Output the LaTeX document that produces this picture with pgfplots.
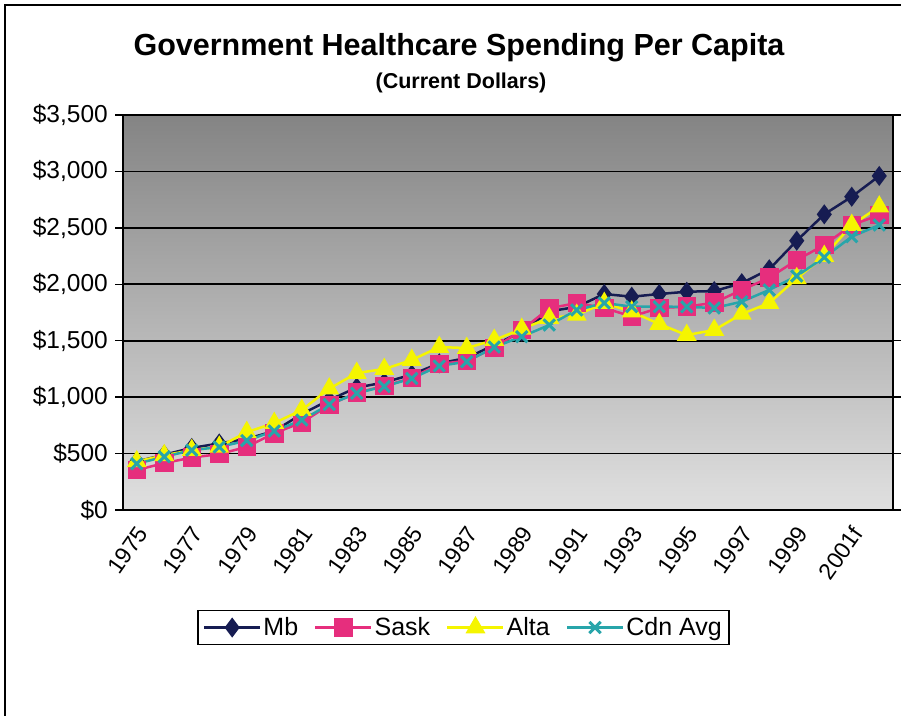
\documentclass[border=0pt]{standalone}
\usepackage{pgfplots}
\pgfplotsset{compat=1.18}
\usepackage{fontspec}
\setmainfont{Liberation Sans}

\definecolor{mbcol}{RGB}{22,28,82}
\definecolor{saskcol}{RGB}{230,46,125}
\definecolor{altacol}{RGB}{245,245,0}
\definecolor{cdncol}{RGB}{40,165,170}
\definecolor{bgtop}{RGB}{132,132,132}
\definecolor{bgbot}{RGB}{224,224,224}

\pgfplotstableread{
idx  mb    sask  alta  cdn
0    430   355   430   410
1    490   415   485   472
2    550   465   530   530
3    590   495   560   558
4    630   560   690   615
5    700   680   770   700
6    850   775   886   797
7    975   930   1075  935
8    1085  1040  1214  1035
9    1130  1099  1249  1095
10   1200  1170  1329  1165
11   1300  1294  1444  1277
12   1347  1323  1435  1314
13   1462  1435  1506  1444
14   1580  1595  1604  1536
15   1760  1787  1701  1639
16   1800  1834  1728  1772
17   1914  1790  1834  1834
18   1890  1715  1757  1802
19   1914  1790  1648  1802
20   1934  1802  1550  1800
21   1940  1837  1595  1790
22   2010  1950  1737  1846
23   2133  2058  1834  1950
24   2386  2215  2053  2073
25   2620  2348  2250  2239
26   2776  2525  2525  2422
27   2960  2614  2688  2525
}\spending

\begin{document}
\begin{tikzpicture}
\useasboundingbox (0pt,0pt) rectangle (901pt,-715pt);
% outer chart frame (only top and left edges are visible in the scan)
\draw[line width=2pt] (5pt,-760pt) -- (5pt,-5pt) -- (950pt,-5pt);

\node[font=\fontsize{30.5}{34}\selectfont\bfseries, anchor=base] at (459pt,-55pt)
  {Government Healthcare Spending Per Capita};
\node[font=\fontsize{21.5}{24}\selectfont\bfseries, anchor=base] at (461pt,-88pt)
  {(Current Dollars)};

\begin{axis}[
  at={(123pt,-510pt)}, anchor=south west,
  width=770pt, height=395pt, scale only axis,
  xmin=-0.5, xmax=27.5,
  ymin=0, ymax=3500,
  axis line style={line width=1.5pt},
  axis background/.style={top color=bgtop, bottom color=bgbot},
  ymajorgrids, grid style={black, line width=1.8pt},
  ytick={0,500,...,3500},
  yticklabels={{\$0},{\$500},{\$1,000},{\$1,500},{\$2,000},{\$2,500},{\$3,000},{\$3,500}},
  xtick={0,2,...,26},
  xticklabels={1975,1977,1979,1981,1983,1985,1987,1989,1991,1993,1995,1997,1999,2001f},
  minor xtick={-0.5,0.5,...,27.5},
  xtick style={draw=none},
  minor tick style={line width=1.5pt, black},
  ytick style={line width=1.5pt, black},
  tick align=outside,
  major tick length=8pt, minor tick length=8pt,
  tick label style={font=\fontsize{24.5}{26}\selectfont},
  xticklabel style={font=\fontsize{23}{25}\selectfont, rotate=55, anchor=east,
    inner sep=0pt, xshift=-6pt, yshift=-11pt},
  yticklabel style={inner sep=0pt, xshift=-7pt},
  /pgf/number format/assume math mode=true,
  legend columns=4,
  legend style={
    at={(0.442,-0.2975)}, anchor=center,
    font=\fontsize{25}{27}\selectfont,
    draw=black, line width=1.5pt, fill=white,
    inner sep=5pt,
    /tikz/every even column/.append style={column sep=14pt},
  },
  legend image code/.code={
    \draw[mark repeat=2, mark phase=2, line width=2.5pt]
      plot coordinates {(0pt,0pt) (28pt,0pt) (56pt,0pt)};
  },
]
\addplot[mbcol, line width=2.5pt, mark=diamond*, mark size=8pt] table[x=idx, y=mb] {\spending};
\addlegendentry{Mb}
\addplot[saskcol, line width=2.5pt, mark=square*, mark size=8pt] table[x=idx, y=sask] {\spending};
\addlegendentry{Sask}
\addplot[altacol, line width=2.5pt, mark=triangle*, mark size=9pt] table[x=idx, y=alta] {\spending};
\addlegendentry{Alta}
\addplot[cdncol, line width=2.5pt, mark=x, mark size=8pt, mark options={line width=3pt}] table[x=idx, y=cdn] {\spending};
\addlegendentry{Cdn Avg}
\end{axis}
\end{tikzpicture}
\end{document}
